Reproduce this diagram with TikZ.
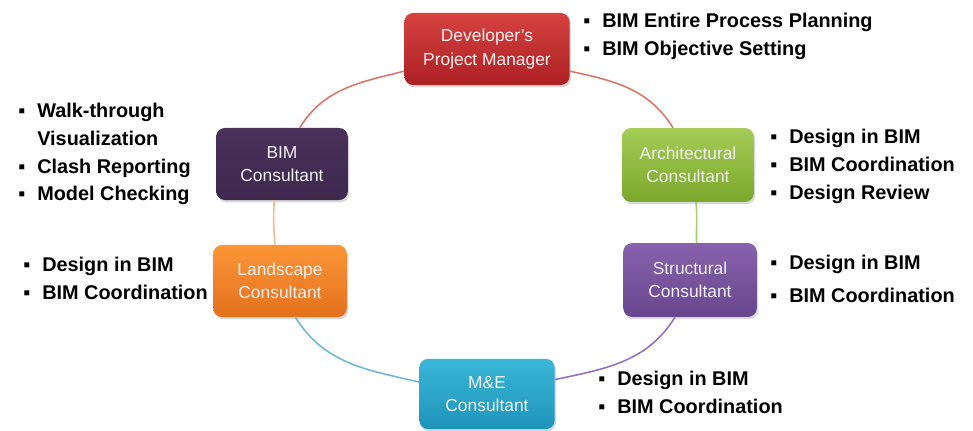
\documentclass[tikz,border=0pt]{standalone}
\usepackage{fontspec}
\setmainfont{Liberation Sans}
\usepackage{xcolor}
\usetikzlibrary{shadows}

\definecolor{devtop}{RGB}{214,66,64}
\definecolor{devbot}{RGB}{172,32,36}
\definecolor{archtop}{RGB}{166,204,86}
\definecolor{archbot}{RGB}{122,168,44}
\definecolor{structtop}{RGB}{136,98,172}
\definecolor{structbot}{RGB}{104,70,142}
\definecolor{metop}{RGB}{58,182,214}
\definecolor{mebot}{RGB}{30,148,186}
\definecolor{landtop}{RGB}{250,150,56}
\definecolor{landbot}{RGB}{228,112,28}
\definecolor{bimtop}{RGB}{74,50,90}
\definecolor{bimbot}{RGB}{62,40,78}
\definecolor{devline}{RGB}{216,118,104}
\definecolor{archline}{RGB}{166,204,110}
\definecolor{structline}{RGB}{150,112,192}
\definecolor{meline}{RGB}{108,186,214}
\definecolor{landline}{RGB}{250,186,140}

\newcommand{\duty}[1]{\makebox[10.8pt][l]{▪}#1}

\tikzset{
    role/.style={rounded corners=5pt, minimum width=#1, minimum height=40pt,
        align=center, text=white!94!black, inner sep=0pt,
        font=\fontsize{9.9}{13.4}\selectfont,
        drop shadow={opacity=0.3, shadow xshift=0.8pt, shadow yshift=-1.3pt}},
    duties/.style={anchor=west, align=left, inner sep=0pt,
        font=\fontsize{11.3}{15.9}\selectfont\bfseries},
    link/.style={line width=0.9pt}
}

\begin{document}
\begin{tikzpicture}[x=0.02cm, y=-0.02cm]
            \useasboundingbox (0,0) rectangle (973,430);
            % the six parties
            \node [role=94pt, minimum height=41pt, top color=devtop, bottom color=devbot] (dev) at (487,49) {Developer's\\Project Manager};
            \node [role=75pt, minimum height=42pt, top color=archtop, bottom color=archbot] (arch) at (688,165) {Architectural\\Consultant};
            \node [role=76pt, minimum height=42pt, top color=structtop, bottom color=structbot] (struct) at (690,280) {Structural\\Consultant};
            \node [role=77pt, top color=metop, bottom color=mebot] (me) at (487,394) {M\&E\\Consultant};
            \node [role=76pt, minimum height=41pt, top color=landtop, bottom color=landbot] (land) at (280,281) {Landscape\\Consultant};
            \node [role=75pt, minimum height=41pt, top color=bimtop, bottom color=bimbot] (bim) at (282,164) {BIM\\Consultant};
            % the cycle
            \draw [link, devline] (dev.-15) to[out=-12, in=122] (arch.112);
            \draw [link, archline] (arch.-78) to[out=-84, in=92] (struct.80);
            \draw [link, structline] (struct.-112) to[out=238, in=12] (me.12);
            \draw [link, meline] (me.170) to[out=167, in=-58] (land.-67);
            \draw [link, landline] (land.98) to[out=94, in=-94] (bim.-102);
            \draw [link, devline] (bim.64) to[out=58, in=194] (dev.195);
            % what each party does
            \node [duties] (devdo) at (583,36.5) {\duty{BIM Entire Process Planning}\\\duty{BIM Objective Setting}};
            \node [duties] (archdo) at (770,166.5) {\duty{Design in BIM}\\\duty{BIM Coordination}\\\duty{Design Review}};
            \node [duties] (structdo) at (770,278.5) {\duty{Design in BIM}\\[3pt]\duty{BIM Coordination}};
            \node [duties] (medo) at (598,392.5) {\duty{Design in BIM}\\\duty{BIM Coordination}};
            \node [duties] (landdo) at (23,278.5) {\duty{Design in BIM}\\\duty{BIM Coordination}};
            \node [duties] (bimdo) at (18,154) {\duty{Walk-through}\\\hspace*{10.8pt}Visualization\\\duty{Clash Reporting}\\\duty{Model Checking}};
        \end{tikzpicture}
\end{document}
